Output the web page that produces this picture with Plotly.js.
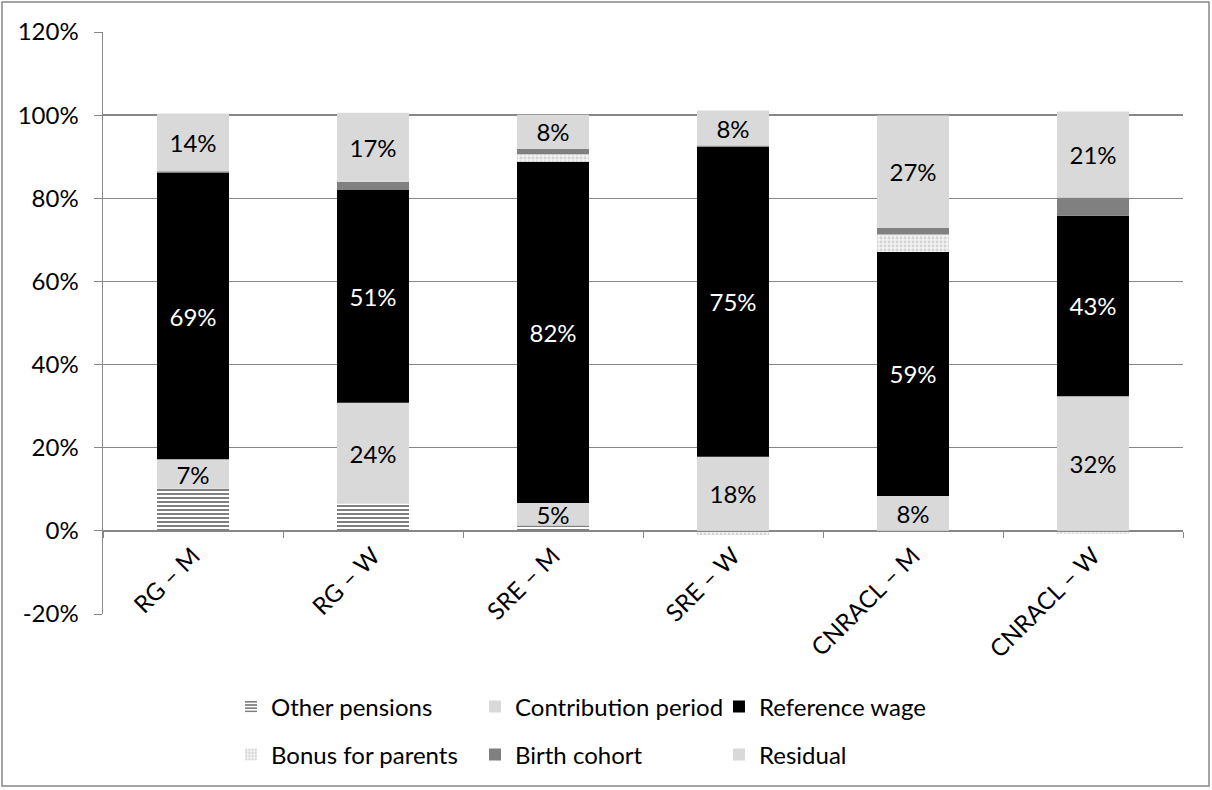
<!DOCTYPE html>
<html>
<head>
<meta charset="utf-8">
<script src="https://cdn.plot.ly/plotly-3.0.1.min.js"></script>
<style>
  html, body { margin: 0; padding: 0; background: #ffffff; }
  #chart { width: 1212px; height: 790px; }
</style>
</head>
<body>
<div id="chart"></div>
<script>
// ---- data (percent) ----
var categories = ["RG – M", "RG – W", "SRE – M", "SRE – W", "CNRACL – M", "CNRACL – W"];
var otherPensions       = [10.1, 6.5, 1.3, 0, 0, 0];
var contributionPeriod  = [7.1, 24.3, 5.4, 17.8, 8.4, 32.4];
var referenceWage       = [68.9, 51.2, 82.1, 74.6, 58.7, 43.4];
var bonusForParents     = [0, 0, 1.8, -1.0, 4.2, -0.7];
var birthCohort         = [0.4, 2.0, 1.3, 0.3, 1.6, 4.4];
var residual            = [13.9, 16.6, 8.2, 8.4, 27.0, 20.7];
var yTickValues = [-20, 0, 20, 40, 60, 80, 100, 120];
var yTickLabels = ["-20%", "0%", "20%", "40%", "60%", "80%", "100%", "120%"];

var FONT = "Lato, 'Liberation Sans', sans-serif";
var FS = 24;
var GRID = "#878787";

function bar(name, y, color, opts) {
  var t = {
    type: "bar",
    name: name,
    x: categories,
    y: y,
    width: 0.4,
    marker: { color: color, line: { width: 0 } },
    hoverinfo: "none",
    textangle: 0,
    legend: opts.legend || "legend"
  };
  if (opts.pattern) t.marker.pattern = opts.pattern;
  if (opts.label) {
    t.texttemplate = "%{y:.0f}%";
    t.textposition = "inside";
    t.insidetextanchor = "middle";
    t.textfont = { family: FONT, size: FS, color: opts.label };
  } else {
    t.textposition = "none";
  }
  return t;
}

var traces = [
  bar("Other pensions", otherPensions, "#ffffff", {
    pattern: { shape: "-", fgcolor: "#7f7f7f", bgcolor: "#ffffff", size: 4, solidity: 0.5 }
  }),
  bar("Contribution period", contributionPeriod, "#d9d9d9", { label: "#000000" }),
  bar("Reference wage", referenceWage, "#000000", { label: "#ffffff" }),
  bar("Bonus for parents", bonusForParents, "#ffffff", {
    legend: "legend2",
    pattern: { shape: ".", fgcolor: "#d4d4d4", bgcolor: "#f3f3f3", size: 4, solidity: 0.4 }
  }),
  bar("Birth cohort", birthCohort, "#808080", { legend: "legend2" }),
  bar("Residual", residual, "#d9d9d9", { legend: "legend2", label: "#000000" })
];

var LEGX = (231 - 103) / 1080;

var layout = {
  width: 1212,
  height: 790,
  margin: { l: 103, r: 29, t: 32, b: 176 },
  paper_bgcolor: "#ffffff",
  plot_bgcolor: "#ffffff",
  font: { family: FONT, size: FS, color: "#000000" },
  barmode: "relative",
  showlegend: true,
  uniformtext: { mode: "show", minsize: FS },
  xaxis: {
    type: "category",
    anchor: "free",
    position: 1 / 7,
    showline: true,
    linecolor: GRID,
    linewidth: 1.5,
    ticks: "outside",
    tickson: "boundaries",
    ticklen: 6,
    tickcolor: GRID,
    tickangle: -45,
    showgrid: false,
    tickfont: { family: FONT, size: FS, color: "#000000" }
  },
  yaxis: {
    range: [-20, 120],
    tickvals: yTickValues,
    ticktext: yTickLabels,
    showgrid: true,
    gridcolor: GRID,
    gridwidth: 1.5,
    zeroline: true,
    zerolinecolor: GRID,
    zerolinewidth: 1.5,
    showline: true,
    linecolor: GRID,
    linewidth: 1.5,
    ticks: "outside",
    ticklen: 8,
    tickcolor: GRID,
    ticklabelstandoff: 10,
    tickfont: { family: FONT, size: FS, color: "#000000" }
  },
  legend: {
    orientation: "h",
    x: LEGX, xanchor: "left",
    y: (614 - 707) / 582, yanchor: "middle",
    entrywidth: 199,
    font: { family: FONT, size: FS, color: "#000000" },
    bgcolor: "rgba(0,0,0,0)",
    traceorder: "normal"
  },
  legend2: {
    orientation: "h",
    x: LEGX, xanchor: "left",
    y: (614 - 755) / 582, yanchor: "middle",
    entrywidth: 199,
    font: { family: FONT, size: FS, color: "#000000" },
    bgcolor: "rgba(0,0,0,0)",
    traceorder: "normal"
  },
  shapes: [{
    type: "rect", xref: "paper", yref: "paper",
    x0: (2 - 103) / 1080, x1: (1209 - 103) / 1080,
    y0: (614 - 786) / 582, y1: (614 - 2) / 582,
    line: { color: "#868686", width: 1.5 },
    fillcolor: "rgba(0,0,0,0)",
    layer: "above"
  }]
};

Plotly.newPlot("chart", traces, layout, { displayModeBar: false, staticPlot: true });
</script>
</body>
</html>
